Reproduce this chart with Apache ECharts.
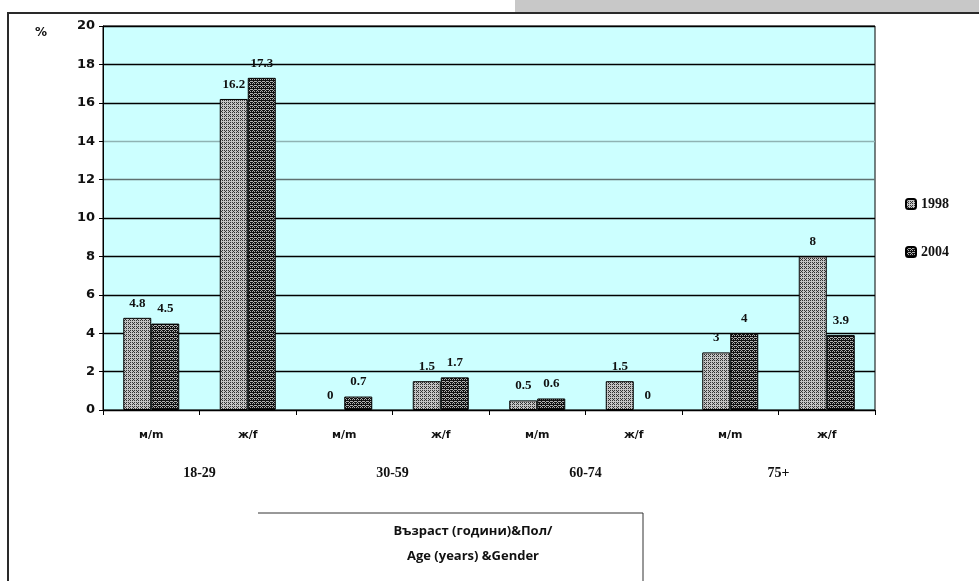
<!DOCTYPE html>
<html>
<head>
<meta charset="utf-8">
<script src="https://cdn.jsdelivr.net/npm/echarts@6/dist/echarts.min.js"></script>
<style>
  html, body { margin: 0; padding: 0; background: #ffffff; }
  #chart { width: 979px; height: 581px; }
</style>
</head>
<body>
<div id="chart"></div>
<script>
// Age group / gender categories
const categories = ['м/m', 'ж/f', 'м/m', 'ж/f', 'м/m', 'ж/f', 'м/m', 'ж/f'];
const ageGroups = ['18-29', '30-59', '60-74', '75+'];
const seriesNames = ['1998', '2004'];
const values1998 = [4.8, 16.2, 0, 1.5, 0.5, 1.5, 3, 8];
const values2004 = [4.5, 17.3, 0.7, 1.7, 0.6, 0, 4, 3.9];
const yTicks = [0, 2, 4, 6, 8, 10, 12, 14, 16, 18, 20];

// Small hatch tiles used as bar fills
function makePattern(light, dark, dense) {
  const c = document.createElement('canvas');
  c.width = 4; c.height = 4;
  const g = c.getContext('2d');
  g.fillStyle = light;
  g.fillRect(0, 0, 4, 4);
  g.fillStyle = dark;
  g.fillRect(0, 0, 1, 1);
  g.fillRect(2, 2, 1, 1);
  g.fillRect(2, 0, 1, 1);
  g.fillRect(0, 2, 1, 1);
  g.fillRect(1, 3, 1, 1);
  if (dense) {
    g.fillRect(1, 1, 1, 1);
    g.fillRect(3, 3, 1, 1);
    g.fillRect(1, 0, 1, 1);
    g.fillRect(3, 2, 1, 1);
    g.fillRect(3, 0, 1, 1);
  }
  return { image: c, repeat: 'repeat' };
}
const fill1998 = makePattern('#c4c4c4', '#333333', false);
const fill2004 = makePattern('#b0b0b0', '#101010', true);

// zero-height bars get no outline
function toBarData(values) {
  return values.map(v => v === 0 ? { value: v, itemStyle: { borderWidth: 0 } } : v);
}

const chart = echarts.init(document.getElementById('chart'), null, { renderer: 'canvas' });

const gridLineColors = yTicks.map(v => v === 14 ? '#8fb3b3' : (v === 12 ? '#5f7070' : '#000000'));

const labelStyle = {
  show: true,
  position: 'top',
  distance: 8,
  fontFamily: 'Liberation Serif',
  fontWeight: 'bold',
  fontSize: 13,
  color: '#111',
  formatter: p => String(p.value)
};

chart.setOption({
  animation: false,
  backgroundColor: '#ffffff',
  grid: {
    left: 103, right: 104, top: 26, bottom: 171,
    show: true,
    backgroundColor: '#ccffff',
    borderColor: '#000',
    borderWidth: 1
  },
  legend: {
    orient: 'vertical',
    left: 900,
    top: 192,
    itemGap: 34,
    itemWidth: 10,
    itemHeight: 10,
    data: seriesNames,
    textStyle: { fontFamily: 'Liberation Serif', fontWeight: 'bold', fontSize: 14, color: '#111' }
  },
  xAxis: [
    {
      type: 'category',
      data: categories,
      position: 'bottom',
      axisLine: { show: true, lineStyle: { color: '#000', width: 1 } },
      axisTick: { show: true, length: 5, inside: false, lineStyle: { color: '#000' } },
      axisLabel: {
        margin: 20,
        fontFamily: 'DejaVu Sans',
        fontWeight: 'bold',
        fontSize: 11,
        color: '#111'
      }
    },
    {
      type: 'category',
      data: ageGroups,
      position: 'bottom',
      offset: 37,
      axisLine: { show: false },
      axisTick: { show: false },
      axisLabel: {
        margin: 19,
        fontFamily: 'Liberation Serif',
        fontWeight: 'bold',
        fontSize: 14,
        color: '#111'
      }
    }
  ],
  yAxis: {
    type: 'value',
    min: 0,
    max: 20,
    interval: 2,
    axisLine: { show: true, lineStyle: { color: '#000' } },
    axisTick: { show: true, length: 4, lineStyle: { color: '#000' } },
    axisLabel: {
      margin: 8,
      fontFamily: 'DejaVu Sans',
      fontWeight: 'bold',
      fontSize: 13,
      color: '#111'
    },
    splitLine: {
      show: true,
      lineStyle: { color: gridLineColors, width: 1.3 }
    }
  },
  series: [
    {
      name: seriesNames[0],
      type: 'bar',
      xAxisIndex: 0,
      data: toBarData(values1998),
      barWidth: 28,
      barGap: '0%',
      itemStyle: { color: fill1998, borderColor: '#000', borderWidth: 1 },
      label: labelStyle
    },
    {
      name: seriesNames[1],
      type: 'bar',
      xAxisIndex: 0,
      data: toBarData(values2004),
      barWidth: 28,
      barGap: '0%',
      itemStyle: { color: fill2004, borderColor: '#000', borderWidth: 1 },
      label: labelStyle
    }
  ],
  graphic: [
    // grey strip and outer frame
    { type: 'rect', shape: { x: 515, y: 0, width: 464, height: 12 }, style: { fill: '#c8c8c8' }, silent: true },
    { type: 'line', shape: { x1: 7, y1: 13, x2: 979, y2: 13 }, style: { stroke: '#2a2a2a', lineWidth: 2 }, silent: true },
    { type: 'line', shape: { x1: 8, y1: 12, x2: 8, y2: 581 }, style: { stroke: '#2a2a2a', lineWidth: 2 }, silent: true },
    // "%" unit mark
    { type: 'text', left: 35, top: 27, style: { text: '%', font: 'bold 12px "DejaVu Sans"', fill: '#111' }, silent: true },
    // axis title box
    { type: 'line', shape: { x1: 258, y1: 513, x2: 643, y2: 513 }, style: { stroke: '#333', lineWidth: 1 }, silent: true },
    { type: 'line', shape: { x1: 643, y1: 513, x2: 643, y2: 581 }, style: { stroke: '#333', lineWidth: 1 }, silent: true },
    { type: 'text', x: 473, y: 531, style: { text: 'Възраст (години)&Пол/', font: 'bold 13px "Open Sans"', fill: '#111', align: 'center', verticalAlign: 'middle' }, silent: true },
    { type: 'text', x: 473, y: 556, style: { text: 'Age (years) &Gender', font: 'bold 13px "Open Sans"', fill: '#111', align: 'center', verticalAlign: 'middle' }, silent: true }
  ]
});
</script>
</body>
</html>
